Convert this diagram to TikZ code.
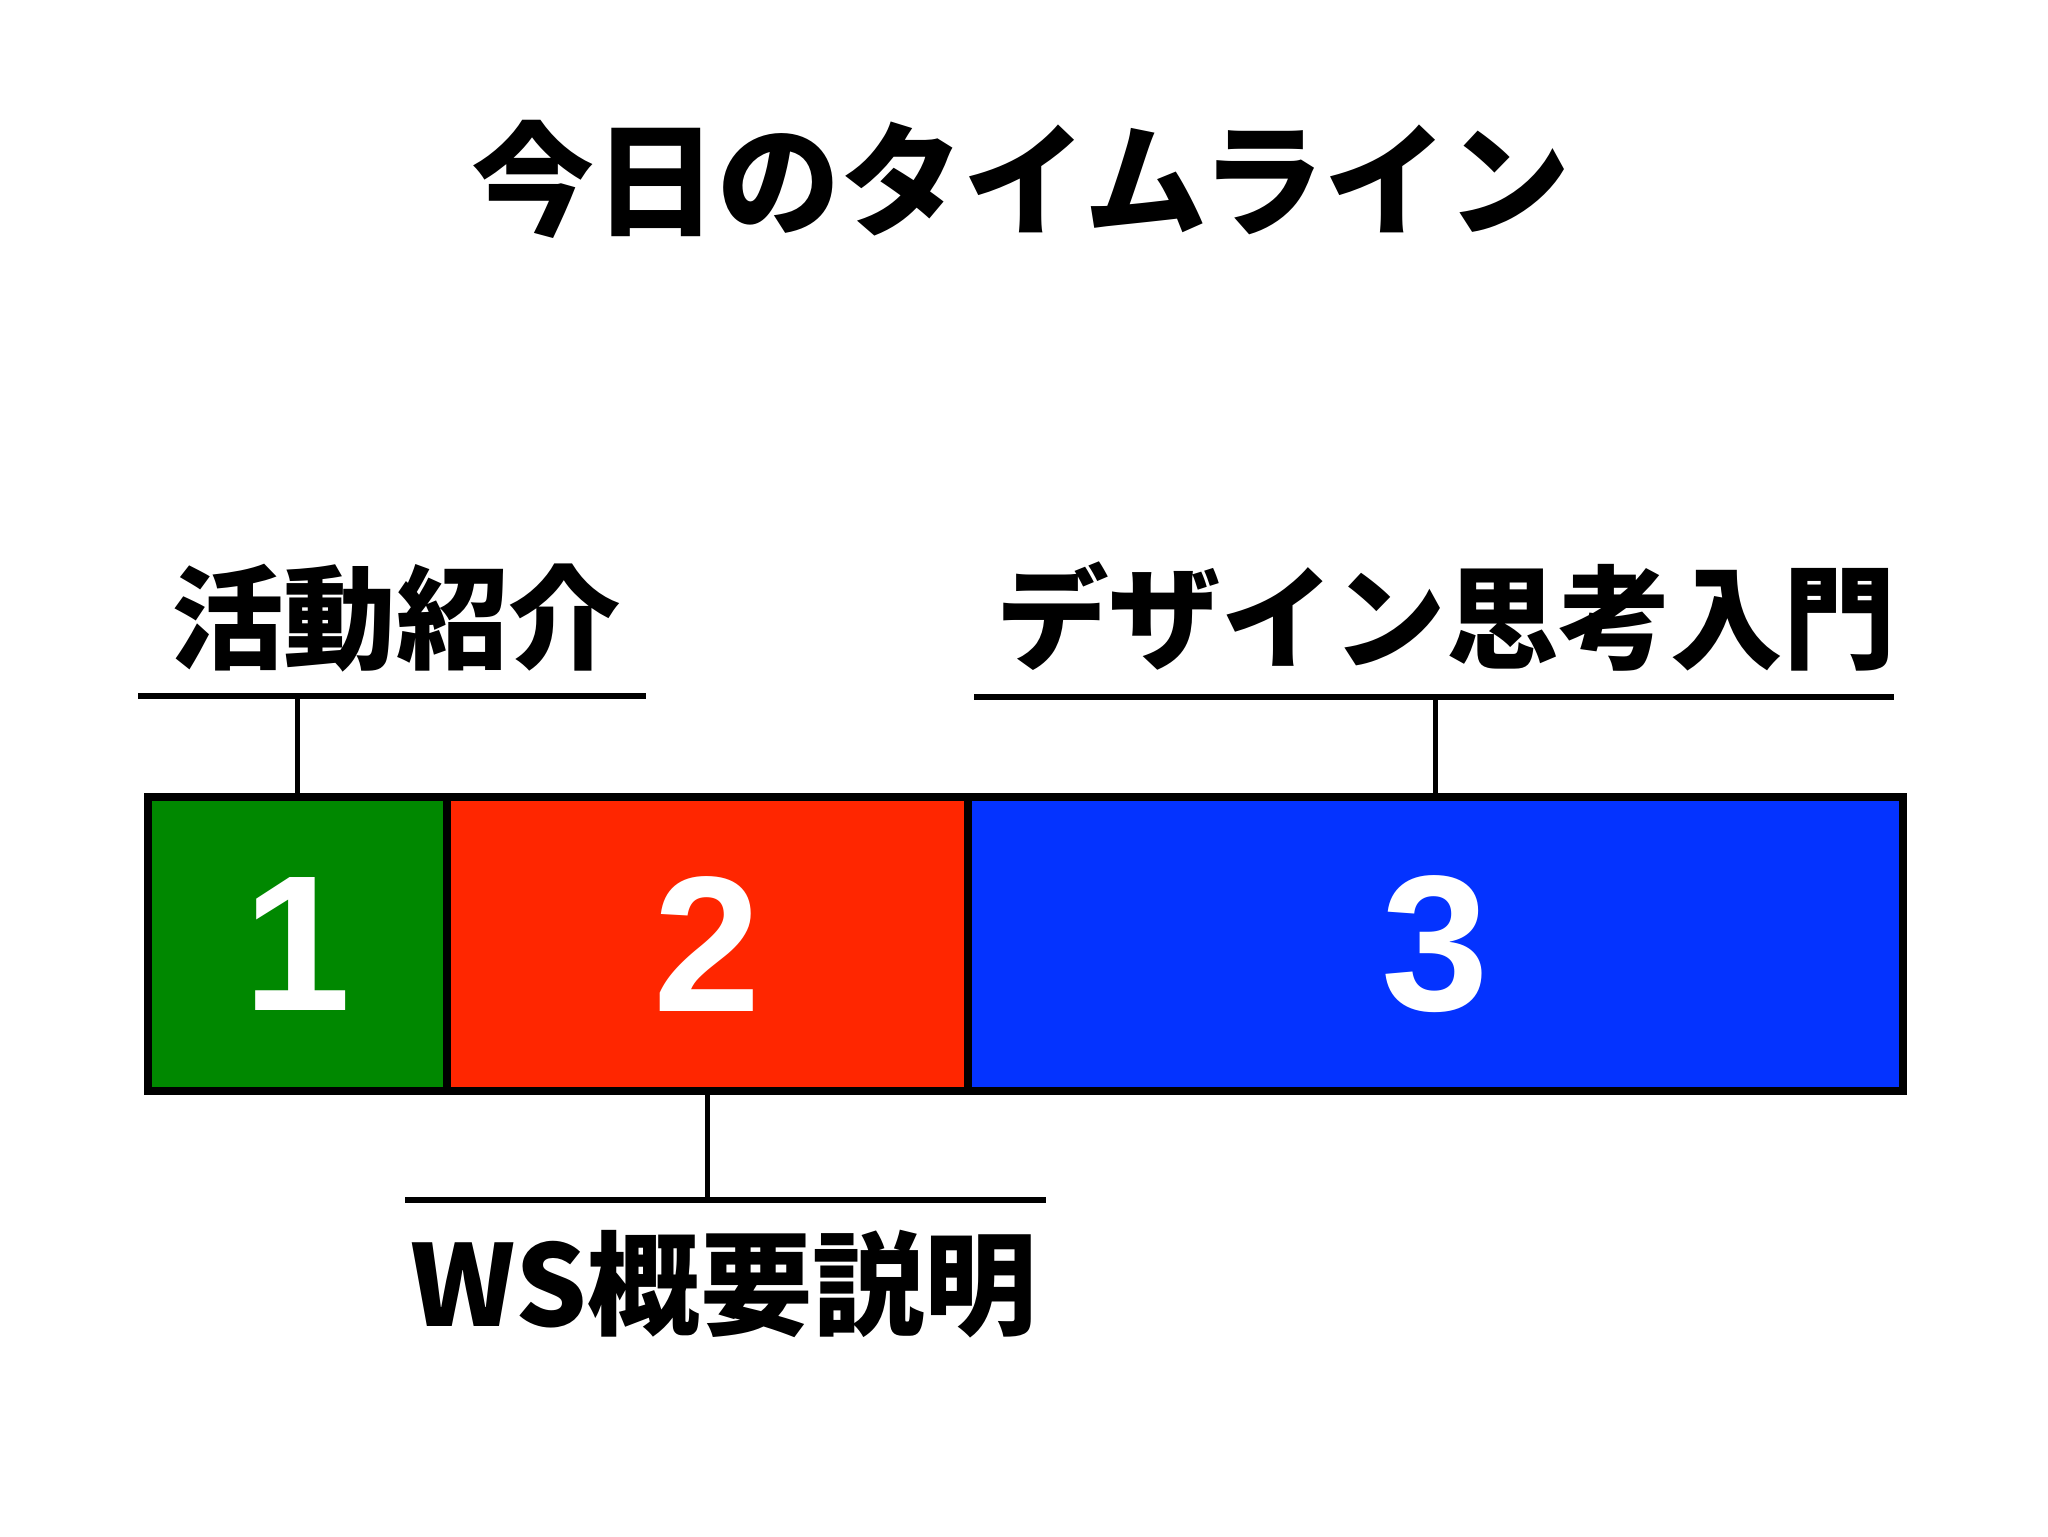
\documentclass[tikz,border=0pt]{standalone}
\usepackage{fontspec}
\newfontfamily\jpfont{Noto Sans CJK JP}
\newfontfamily\numfont{Liberation Sans}
\definecolor{kgreen}{HTML}{008800}
\definecolor{kred}{HTML}{FF2600}
\definecolor{kblue}{HTML}{0433FF}

\begin{document}
\begin{tikzpicture}[x=0.1mm,y=-0.1mm,
                seg/.style={draw,line width=2.4pt,anchor=north west,inner sep=0pt,outer sep=0pt,
                        minimum height=29.4mm,text=white,
                        font=\numfont\bfseries\fontsize{55}{55}\selectfont},
                lbl/.style={font=\jpfont\bfseries\fontsize{32}{32}\selectfont},
                rule/.style={line width=1.8pt},
                tick/.style={line width=1.4pt}]
                \useasboundingbox (0,0) rectangle (2048,1536);
                \node[font=\jpfont\bfseries\fontsize{35}{35}\selectfont] (title) at (1021,179) {今日のタイムライン};
                % timeline bar
                \node[seg,fill=kgreen,minimum width=29.9mm] (s1) at (148,797) {1};
                \node[seg,fill=kred,minimum width=52.1mm] (s2) at (s1.north east) {2};
                \node[seg,fill=kblue,minimum width=93.5mm] (s3) at (s2.north east) {3};
                % labels
                \node[lbl] (t1) at (396,618) {活動紹介};
                \node[lbl] (t3) at (1446,617) {デザイン思考入門};
                \node[lbl] (t2) at (724,1284) {WS概要説明};
                \coordinate (u1) at (138,696);  \coordinate (u1e) at (646,696);
                \coordinate (u3) at (974,697);  \coordinate (u3e) at (1894,697);
                \coordinate (u2) at (405,1200); \coordinate (u2e) at (1046,1200);
                \draw[rule] (u1) -- (u1e);
                \draw[rule] (u3) -- (u3e);
                \draw[rule] (u2) -- (u2e);
                \draw[tick] (s1.north) -- (s1.north |- u1);
                \draw[tick] (s3.north) -- (s3.north |- u3);
                \draw[tick] (s2.south) -- (s2.south |- u2);
\end{tikzpicture}
\end{document}
